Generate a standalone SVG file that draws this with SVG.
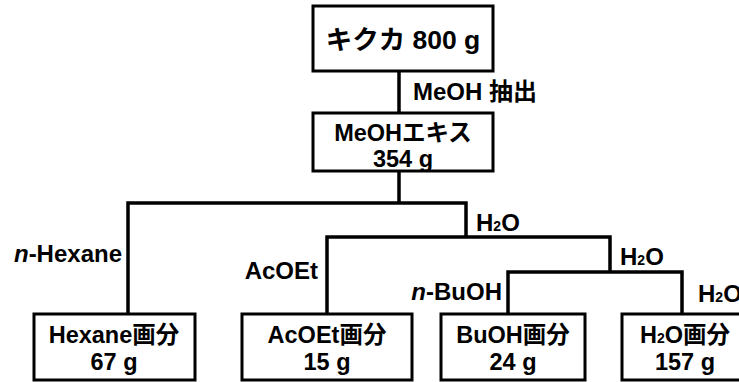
<svg xmlns="http://www.w3.org/2000/svg" width="739" height="382" viewBox="0 0 739 382">
<style>
.box{fill:#fff;stroke:#000;stroke-width:3}
.ln{fill:none;stroke:#000;stroke-width:3.5;stroke-linecap:square}
text{font-family:"Liberation Sans","Noto Sans CJK JP",sans-serif;font-weight:bold;fill:#000}
.t{font-size:23.5px;text-anchor:middle}
.big{font-size:26.5px;text-anchor:middle}
.lb{font-size:24px}
.r{text-anchor:end}
.sub{font-size:14px}
</style>
<rect width="739" height="382" fill="#fff"/>
<g id="connectors">
<path class="ln" d="M399 71V113M399 171V203M128 203H466M128 203V314M466 203V237M327 237H610M327 237V314M610 237V272M508 272H682M508 272V314M682 272V314"/>
</g>
<g id="kikuka"><rect class="box" x="313" y="6" width="180" height="65"/><text class="big" x="403" y="49">キクカ 800 g</text></g>
<g id="meoh-label"><text class="lb" x="413" y="100" font-size="26">MeOH 抽出</text></g>
<g id="meoh-extract"><rect class="box" x="313" y="113" width="180" height="58"/><text class="t" x="403" y="141">MeOHエキス</text><text class="t" x="403" y="167">354 g</text></g>
<g id="lbl-hexane"><text class="lb r" x="122" y="262"><tspan font-style="italic">n</tspan>-Hexane</text></g>
<g id="lbl-acoet"><text class="lb r" x="318" y="279">AcOEt</text></g>
<g id="lbl-h2o-1"><text class="lb" x="476" y="231" font-size="23">H<tspan class="sub">2</tspan>O</text></g>
<g id="lbl-h2o-2"><text class="lb" x="620" y="265" font-size="23">H<tspan class="sub">2</tspan>O</text></g>
<g id="lbl-buoh"><text class="lb r" x="502" y="300"><tspan font-style="italic">n</tspan>-BuOH</text></g>
<g id="lbl-h2o-3"><text class="lb" x="698" y="302" font-size="23">H<tspan class="sub">2</tspan>O</text></g>
<g id="hexane-fr"><rect class="box" x="34" y="314" width="161" height="66"/><text class="t" x="114" y="343">Hexane画分</text><text class="t" x="114" y="370">67 g</text></g>
<g id="acoet-fr"><rect class="box" x="242" y="314" width="170" height="66"/><text class="t" x="327" y="343">AcOEt画分</text><text class="t" x="327" y="370">15 g</text></g>
<g id="buoh-fr"><rect class="box" x="441" y="314" width="144" height="66"/><text class="t" x="513" y="343">BuOH画分</text><text class="t" x="513" y="370">24 g</text></g>
<g id="h2o-fr"><rect class="box" x="622" y="314" width="128" height="66"/><text class="t" x="685" y="343">H<tspan class="sub">2</tspan>O画分</text><text class="t" x="685" y="370">157 g</text></g>
</svg>
